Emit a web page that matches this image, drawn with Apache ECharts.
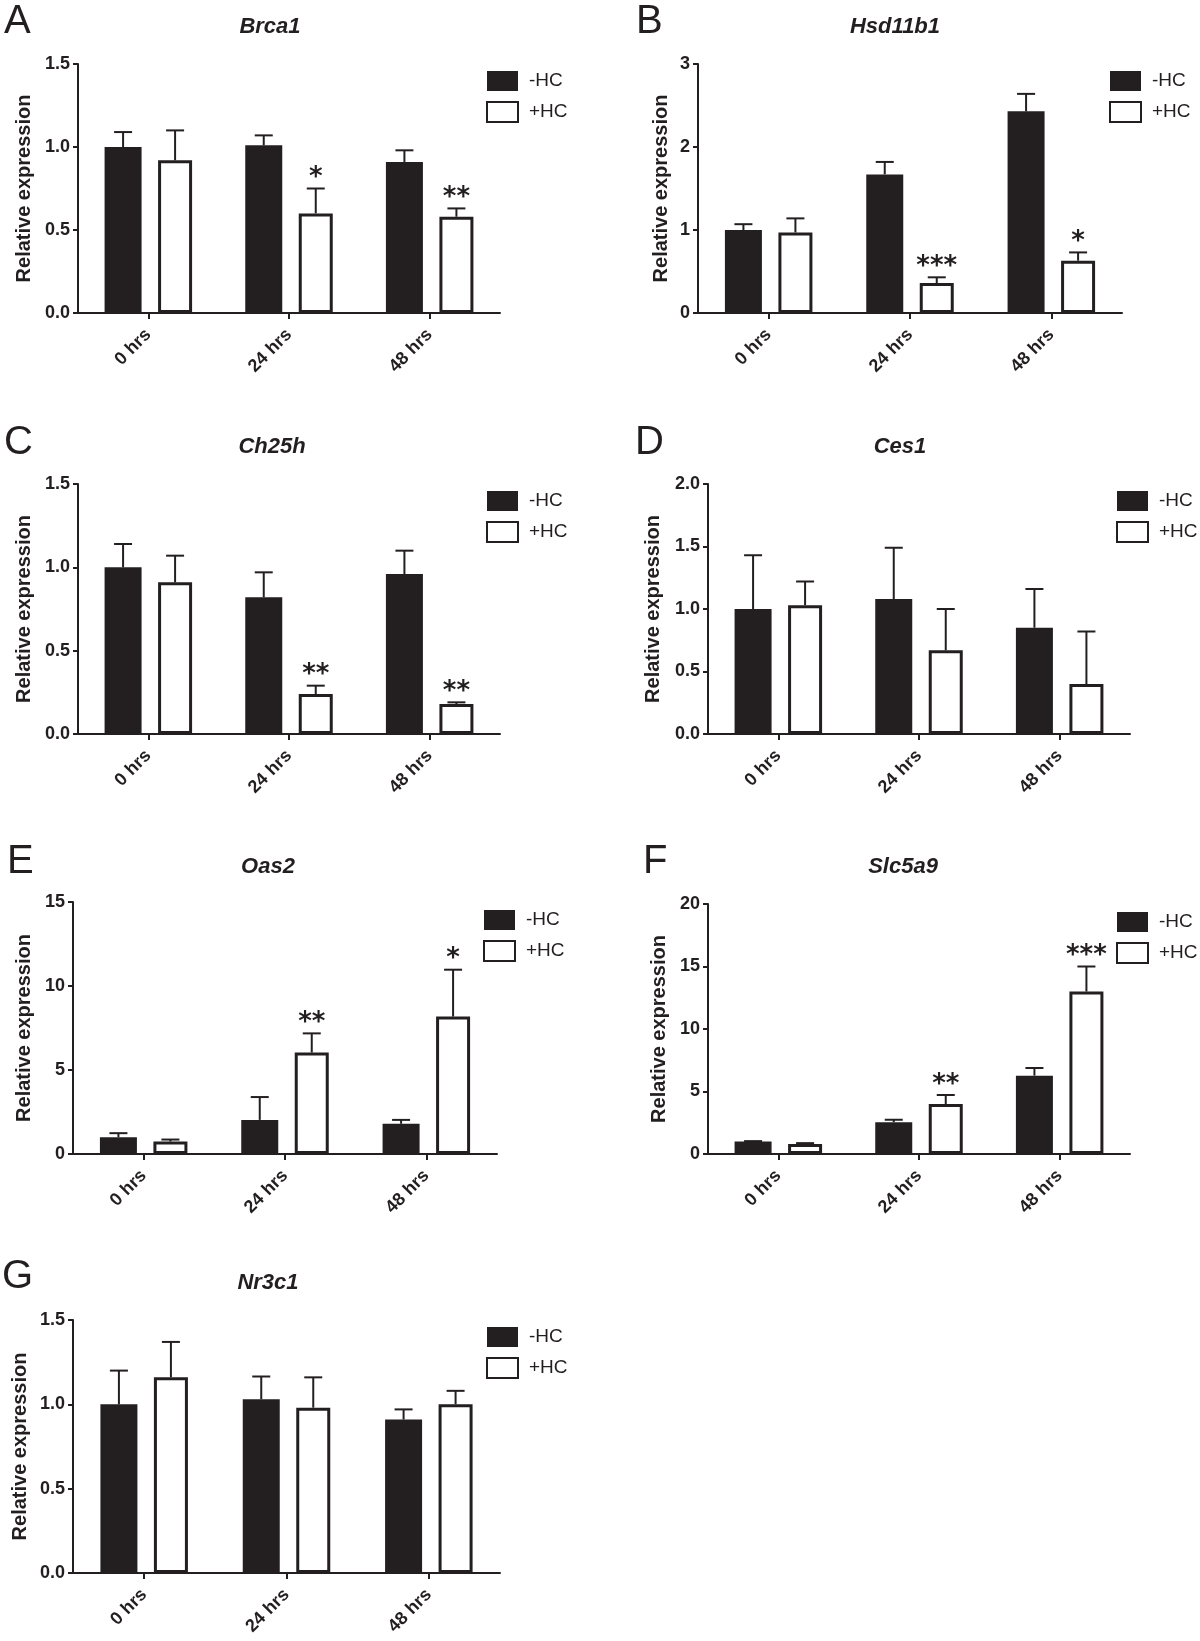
<!DOCTYPE html>
<html><head><meta charset="utf-8">
<script src="https://cdn.jsdelivr.net/npm/echarts@6/dist/echarts.min.js"></script>
<style>html,body{margin:0;padding:0;background:#fff}#c{width:1200px;height:1641px}</style>
</head><body><div id="c"></div>
<script>
// ---------------- DATA ----------------
const categories = ['0 hrs', '24 hrs', '48 hrs'];
const seriesNames = ['-HC', '+HC'];

const brca1Minus = [1.00, 1.01, 0.91];
const brca1MinusErr = [0.09, 0.06, 0.07];
const brca1Plus = [0.92, 0.60, 0.58];
const brca1PlusErr = [0.18, 0.15, 0.05];
const brca1Stars = ['', '*', '**'];
const brca1Ticks = [0, 0.5, 1.0, 1.5];

const hsdMinus = [1.00, 1.67, 2.43];
const hsdMinusErr = [0.07, 0.15, 0.21];
const hsdPlus = [0.97, 0.36, 0.63];
const hsdPlusErr = [0.17, 0.07, 0.10];
const hsdStars = ['', '***', '*'];
const hsdTicks = [0, 1, 2, 3];

const ch25hMinus = [1.00, 0.82, 0.96];
const ch25hMinusErr = [0.14, 0.15, 0.14];
const ch25hPlus = [0.91, 0.24, 0.18];
const ch25hPlusErr = [0.16, 0.05, 0.01];
const ch25hStars = ['', '**', '**'];
const ch25hTicks = [0, 0.5, 1.0, 1.5];

const ces1Minus = [1.00, 1.08, 0.85];
const ces1MinusErr = [0.43, 0.41, 0.31];
const ces1Plus = [1.03, 0.67, 0.40];
const ces1PlusErr = [0.19, 0.33, 0.42];
const ces1Stars = ['', '', ''];
const ces1Ticks = [0, 0.5, 1.0, 1.5, 2.0];

const oas2Minus = [1.00, 2.03, 1.80];
const oas2MinusErr = [0.24, 1.36, 0.23];
const oas2Plus = [0.74, 6.04, 8.18];
const oas2PlusErr = [0.12, 1.14, 2.79];
const oas2Stars = ['', '**', '*'];
const oas2Ticks = [0, 5, 10, 15];

const slcMinus = [1.00, 2.55, 6.27];
const slcMinusErr = [0.03, 0.19, 0.61];
const slcPlus = [0.80, 4.00, 13.0];
const slcPlusErr = [0.07, 0.72, 2.00];
const slcStars = ['', '**', '***'];
const slcTicks = [0, 5, 10, 15, 20];

const nr3c1Minus = [1.00, 1.03, 0.91];
const nr3c1MinusErr = [0.20, 0.135, 0.06];
const nr3c1Plus = [1.16, 0.98, 1.00];
const nr3c1PlusErr = [0.21, 0.18, 0.08];
const nr3c1Stars = ['', '', ''];
const nr3c1Ticks = [0, 0.5, 1.0, 1.5];

// ---------------- LAYOUT / STYLE ----------------
const INK = '#231f20';
const FONT = '"Liberation Sans", Arial, Helvetica, sans-serif';
const BW_BLACK = 37, BW_WHITE = 34, GAP_PCT = 0.446;
// bar centre offsets, same formula echarts uses for side-by-side bars
const totalW = BW_BLACK * (1 + GAP_PCT) + BW_WHITE;
const OFFS = [-totalW / 2 + BW_BLACK / 2, -totalW / 2 + BW_BLACK * (1 + GAP_PCT) + BW_WHITE / 2];

const panels = [
  {letter:'A', title:'Brca1', d:[brca1Minus, brca1MinusErr, brca1Plus, brca1PlusErr, brca1Stars, brca1Ticks],
   L:{lx:4, ly:22, tx:270, ty:27, left:78, top:64, w:422, h:249, legL:486, legT:71, gap:44, dec:1}},
  {letter:'B', title:'Hsd11b1', d:[hsdMinus, hsdMinusErr, hsdPlus, hsdPlusErr, hsdStars, hsdTicks],
   L:{lx:636, ly:22, tx:895, ty:27, left:698, top:64, w:424, h:249, legL:1109, legT:71, gap:27, dec:0}},
  {letter:'C', title:'Ch25h', d:[ch25hMinus, ch25hMinusErr, ch25hPlus, ch25hPlusErr, ch25hStars, ch25hTicks],
   L:{lx:4, ly:443, tx:272, ty:447, left:78, top:484, w:422, h:250, legL:486, legT:491, gap:44, dec:1}},
  {letter:'D', title:'Ces1', d:[ces1Minus, ces1MinusErr, ces1Plus, ces1PlusErr, ces1Stars, ces1Ticks],
   L:{lx:635, ly:443, tx:900, ty:447, left:708, top:484, w:422, h:250, legL:1116, legT:491, gap:45, dec:1}},
  {letter:'E', title:'Oas2', d:[oas2Minus, oas2MinusErr, oas2Plus, oas2PlusErr, oas2Stars, oas2Ticks],
   L:{lx:7, ly:862, tx:268, ty:867, left:73, top:902, w:424, h:252, legL:483, legT:910, gap:39, dec:0}},
  {letter:'F', title:'Slc5a9', d:[slcMinus, slcMinusErr, slcPlus, slcPlusErr, slcStars, slcTicks],
   L:{lx:643, ly:862, tx:903, ty:867, left:708, top:904, w:422, h:250, legL:1116, legT:912, gap:39, dec:0}},
  {letter:'G', title:'Nr3c1', d:[nr3c1Minus, nr3c1MinusErr, nr3c1Plus, nr3c1PlusErr, nr3c1Stars, nr3c1Ticks],
   L:{lx:2, ly:1277, tx:268, ty:1283, left:73, top:1320, w:427, h:253, legL:486, legT:1327, gap:43, dec:1}}
];

const option = {
  backgroundColor: '#fff',
  animation: false,
  grid: [], xAxis: [], yAxis: [], series: [], legend: [], graphic: []
};

panels.forEach(function (p, i) {
  const L = p.L;
  const [minus, minusErr, plus, plusErr, stars, ticks] = p.d;
  option.grid.push({left: L.left, top: L.top, width: L.w, height: L.h, containLabel: false});
  option.xAxis.push({
    type: 'category', gridIndex: i, data: categories,
    axisLine: {show: true, lineStyle: {color: INK, width: 2}},
    axisTick: {show: true, alignWithLabel: true, length: 6, lineStyle: {color: INK, width: 2}},
    axisLabel: {interval: 0, rotate: 45, margin: 19, color: INK, fontFamily: FONT, fontWeight: 'bold', fontSize: 18},
    splitLine: {show: false}
  });
  option.yAxis.push({
    type: 'value', gridIndex: i,
    min: ticks[0], max: ticks[ticks.length - 1], interval: ticks[1] - ticks[0],
    axisLine: {show: true, lineStyle: {color: INK, width: 2}},
    axisTick: {show: true, length: 5, lineStyle: {color: INK, width: 2}},
    axisLabel: {margin: 8, color: INK, fontFamily: FONT, fontWeight: 'bold', fontSize: 18,
      formatter: function (v) { return v.toFixed(L.dec); }},
    splitLine: {show: false},
    name: 'Relative expression', nameLocation: 'middle', nameGap: L.gap,
    nameTextStyle: {color: INK, fontFamily: FONT, fontWeight: 'bold', fontSize: 20}
  });
  option.series.push({
    name: seriesNames[0], type: 'bar', xAxisIndex: i, yAxisIndex: i,
    data: minus, barWidth: BW_BLACK, barGap: (GAP_PCT * 100) + '%',
    itemStyle: {color: INK}, silent: true
  });
  option.series.push({
    name: seriesNames[1], type: 'bar', xAxisIndex: i, yAxisIndex: i,
    data: plus, barWidth: BW_WHITE, barGap: (GAP_PCT * 100) + '%',
    itemStyle: {color: '#ffffff', borderColor: INK, borderWidth: 3}, silent: true
  });
  const errData = [];
  for (let k = 0; k < categories.length; k++) {
    errData.push([k, minus[k], minusErr[k], 0]);
    errData.push([k, plus[k], plusErr[k], 1]);
  }
  option.series.push({
    type: 'custom', xAxisIndex: i, yAxisIndex: i, z: 5, silent: true,
    data: errData, encode: {x: 0, y: 1},
    renderItem: function (params, api) {
      const ci = api.value(0), mean = api.value(1), err = api.value(2), si = api.value(3);
      const base = api.coord([ci, mean]);
      const top = api.coord([ci, mean + err]);
      const x = base[0] + OFFS[si];
      const children = [
        {type: 'line', shape: {x1: x, y1: base[1], x2: x, y2: top[1]}, style: {stroke: INK, lineWidth: 2}},
        {type: 'line', shape: {x1: x - 9, y1: top[1], x2: x + 9, y2: top[1]}, style: {stroke: INK, lineWidth: 2}}
      ];
      if (si === 1 && stars[ci]) {
        children.push({type: 'text', x: x, y: top[1] + 3,
          style: {text: stars[ci], fill: INK, font: 'bold 26px "DejaVu Sans", sans-serif', align: 'center', verticalAlign: 'bottom'}});
      }
      return {type: 'group', children: children};
    }
  });
  option.legend.push({
    left: L.legL, top: L.legT, padding: 0, orient: 'vertical', itemWidth: 31, itemHeight: 20, itemGap: 10,
    selectedMode: false, data: seriesNames.map(function (n) { return {name: n, icon: 'rect'}; }),
    textStyle: {color: INK, fontFamily: FONT, fontSize: 19, padding: [0, 0, 0, 6]}
  });
  option.graphic.push({type: 'text', x: L.lx, y: L.ly,
    style: {text: p.letter, fill: INK, font: '40px ' + FONT, align: 'left', verticalAlign: 'middle'}});
  option.graphic.push({type: 'text', x: L.tx, y: L.ty,
    style: {text: p.title, fill: INK, font: 'italic bold 22px ' + FONT, align: 'center', verticalAlign: 'middle'}});
});

const chart = echarts.init(document.getElementById('c'), null, {renderer: 'canvas'});
chart.setOption(option);
</script>
</body></html>
